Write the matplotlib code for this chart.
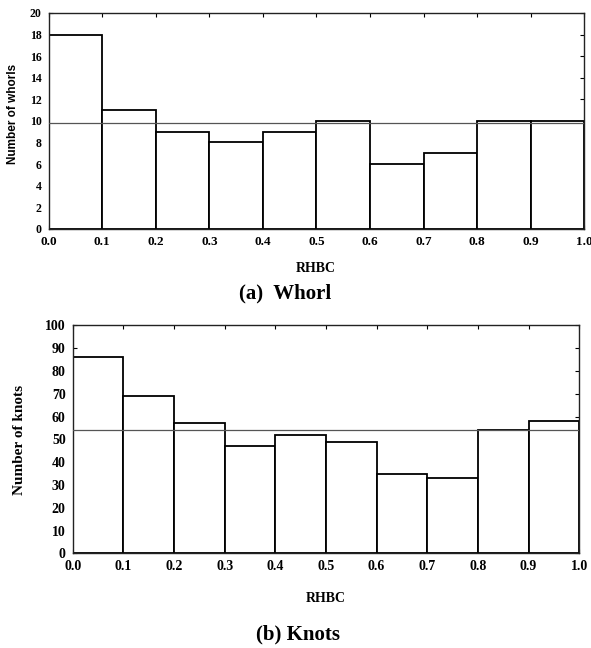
import numpy as np
import matplotlib.pyplot as plt

# Histogrammes RHBC : verticilles (a) et noeuds (b)
bins = np.arange(0.0, 1.01, 0.1)
whorls = [18, 11, 9, 8, 9, 10, 6, 7, 10, 10]
knots = [86, 69, 57, 47, 52, 49, 35, 33, 54, 58]
x_ticks = ['0.0', '0.1', '0.2', '0.3', '0.4', '0.5', '0.6', '0.7', '0.8', '0.9', '1.0']

serif = 'Liberation Serif'
sans = 'Liberation Sans'

fig = plt.figure(figsize=(5.91, 6.48), dpi=100)


def histo(ax, counts, ymax, ystep, xsize, ysize):
    ax.bar(bins[:-1], counts, width=0.1, align='edge', facecolor='white',
           edgecolor='black', linewidth=1.3, zorder=2)
    moyenne = np.mean(counts)
    ax.axhline(moyenne, color='#555555', linewidth=0.9, zorder=3)
    ax.set_xlim(0, 1.0)
    ax.set_ylim(0, ymax)
    ax.set_xticks(bins)
    ax.set_xticklabels(x_ticks)
    ax.set_yticks(np.arange(0, ymax + 1, ystep))
    ax.tick_params(direction='in', top=True, right=True, length=3, width=0.8)
    ax.tick_params(axis='x', pad=5)
    ax.tick_params(axis='y', pad=5)
    for lab in ax.get_xticklabels():
        lab.set_fontfamily(serif)
        lab.set_fontweight('bold')
        lab.set_fontsize(xsize)
    for lab in ax.get_yticklabels():
        lab.set_fontfamily(serif)
        lab.set_fontweight('bold')
        lab.set_fontsize(ysize)
    for s in ax.spines.values():
        s.set_linewidth(1.0)
        s.set_color('#222222')


# (a) Whorl
ax1 = fig.add_axes([0.0824, 0.647, 0.906, 0.333])
histo(ax1, whorls, 20, 2, 9.5, 8.5)
fig.text(316 / 591, 1 - 269 / 648, 'RHBC', family=serif, weight='bold',
         fontsize=10, ha='center', va='center')
fig.text(285 / 591, 1 - 293 / 648, '(a)  Whorl', family=serif, weight='bold',
         fontsize=15, ha='center', va='center')
fig.text(13 / 591, 1 - 114 / 648, 'Number of whorls', family=sans, weight='bold',
         fontsize=8.5, ha='center', va='center', rotation=90)

# (b) Knots
ax2 = fig.add_axes([0.123, 0.146, 0.857, 0.352])
histo(ax2, knots, 100, 10, 10, 10)
fig.text(325.5 / 591, 1 - 598.5 / 648, 'RHBC', family=serif, weight='bold',
         fontsize=10, ha='center', va='center')
fig.text(298.5 / 591, 1 - 634 / 648, '(b) Knots', family=serif, weight='bold',
         fontsize=15, ha='center', va='center')
fig.text(20 / 591, 1 - 440 / 648, 'Number of knots', family=serif, weight='bold',
         fontsize=11, ha='center', va='center', rotation=90)

fig.savefig('out.png', dpi=100)
